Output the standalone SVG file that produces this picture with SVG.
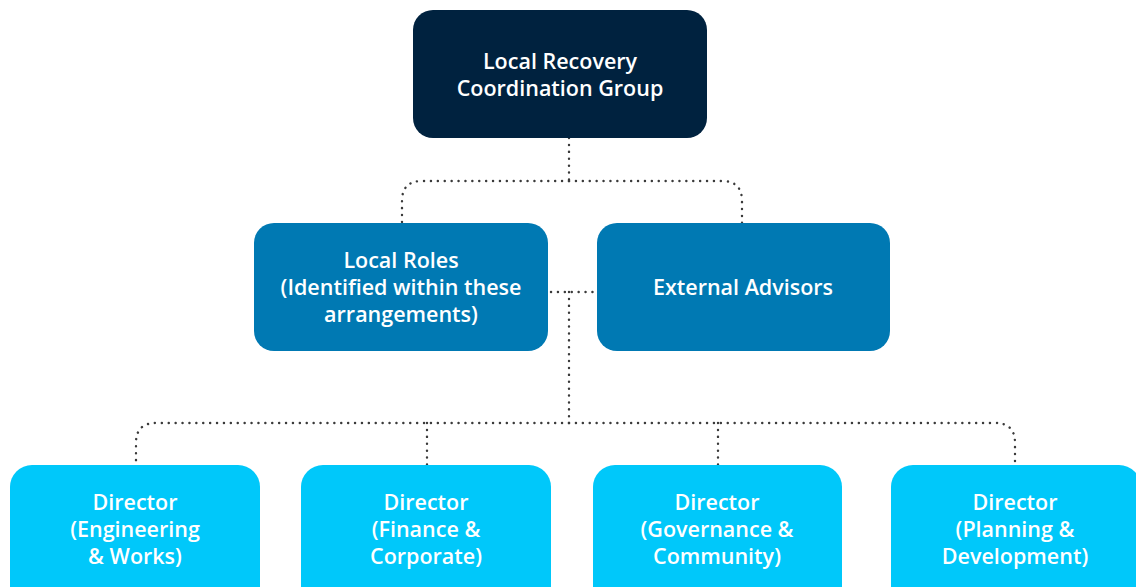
<svg xmlns="http://www.w3.org/2000/svg" width="1136" height="587" viewBox="0 0 1136 587">
<style>
.lbl{font-family:"Open Sans","Liberation Sans",sans-serif;font-weight:600;font-size:21.5px;fill:#ffffff;text-anchor:middle}
.top{fill:#00223f}
.mid{fill:#0079b3}
.bot{fill:#00c8fa}
.con{fill:none;stroke:#3a3a3a;stroke-width:2.4;stroke-linecap:round;stroke-dasharray:0.1 6.8}
</style>
<rect width="1136" height="587" fill="#ffffff"/>
<g id="connectors">
<path class="con" d="M569,138 V181"/>
<path class="con" d="M569,181 H422 Q402,181 402,201 V223"/>
<path class="con" d="M569,181 H722 Q742,181 742,201 V223"/>
<path class="con" d="M551,292 H595"/>
<path class="con" d="M569,292 V423"/>
<path class="con" d="M569,423 H156 Q136,423 136,443 V465"/>
<path class="con" d="M569,423 H995 Q1015,423 1015,443 V465"/>
<path class="con" d="M427,423 V465"/>
<path class="con" d="M718,423 V465"/>
</g>
<g id="lrcg">
<rect class="top" x="413" y="10" width="294" height="128" rx="20"/>
<text class="lbl" x="560" y="69">Local Recovery</text>
<text class="lbl" x="560" y="96">Coordination Group</text>
</g>
<g id="local-roles">
<rect class="mid" x="254" y="223" width="294" height="128" rx="20"/>
<text class="lbl" x="401" y="268">Local Roles</text>
<text class="lbl" x="401" y="295">(Identified within these</text>
<text class="lbl" x="401" y="322">arrangements)</text>
</g>
<g id="external-advisors">
<rect class="mid" x="597" y="223" width="293" height="128" rx="20"/>
<text class="lbl" x="743" y="295">External Advisors</text>
</g>
<g id="dir-engineering">
<rect class="bot" x="10" y="465" width="250" height="150" rx="22"/>
<text class="lbl" x="135" y="510">Director</text>
<text class="lbl" x="135" y="537">(Engineering</text>
<text class="lbl" x="135" y="564">&amp; Works)</text>
</g>
<g id="dir-finance">
<rect class="bot" x="301" y="465" width="250" height="150" rx="22"/>
<text class="lbl" x="426" y="510">Director</text>
<text class="lbl" x="426" y="537">(Finance &amp;</text>
<text class="lbl" x="426" y="564">Corporate)</text>
</g>
<g id="dir-governance">
<rect class="bot" x="593" y="465" width="249" height="150" rx="22"/>
<text class="lbl" x="717" y="510">Director</text>
<text class="lbl" x="717" y="537">(Governance &amp;</text>
<text class="lbl" x="717" y="564">Community)</text>
</g>
<g id="dir-planning">
<rect class="bot" x="891" y="465" width="250" height="150" rx="22"/>
<text class="lbl" x="1015" y="510">Director</text>
<text class="lbl" x="1015" y="537">(Planning &amp;</text>
<text class="lbl" x="1015" y="564">Development)</text>
</g>
</svg>
